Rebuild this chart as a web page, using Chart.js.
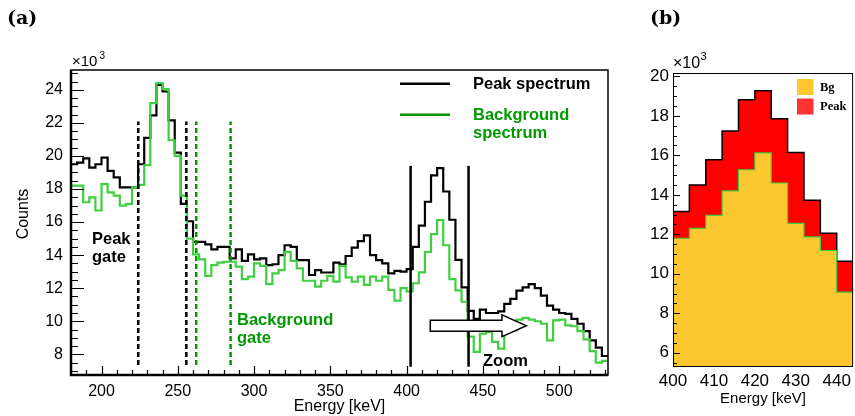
<!DOCTYPE html>
<html><head><meta charset="utf-8">
<script src="https://cdn.jsdelivr.net/npm/chart.js@4.4.1/dist/chart.umd.min.js"></script>
<style>
html,body{margin:0;padding:0;background:#fff;width:855px;height:416px;overflow:hidden;}
#a{position:absolute;left:0;top:0;}
#b{position:absolute;left:640px;top:0;}
</style></head><body>
<canvas id="a" width="620" height="416"></canvas>
<canvas id="b" width="215" height="416"></canvas>
<script>
// ---- data (counts in units of 10^3, 4 keV bins; values are bin low edges) ----
const binLowEdges = [180,184,188,192,196,200,204,208,212,216,220,224,228,232,236,240,244,248,252,256,
 260,264,268,272,276,280,284,288,292,296,300,304,308,312,316,320,324,328,332,336,
 340,344,348,352,356,360,364,368,372,376,380,384,388,392,396,400,404,408,412,416,
 420,424,428,432,436,440,444,448,452,456,460,464,468,472,476,480,484,488,492,496,
 500,504,508,512,516,520,524,528];
const binWidthKeV = 4;
const peakCounts = [19.5,19.6,19.85,19.3,19.5,19.9,19.1,18.7,18.1,18.1,18.1,19.5,21.1,22.45,24.3,23.9,22.15,20.2,17.1,16.05,
 14.8,14.8,14.65,14.35,14.5,14.5,13.8,14.35,13.65,14.05,13.75,13.8,13.4,13.45,14.0,14.6,14.5,13.7,13.7,12.8,
 13.1,12.95,12.95,13.55,13.45,13.95,14.45,14.85,15.2,14.0,13.7,13.5,12.9,13.05,13.0,13.15,14.5,15.78,17.23,18.82,
 19.27,17.85,16.14,13.72,12.05,10.63,10.15,10.7,10.5,10.5,10.6,11.05,11.35,11.85,12.05,12.25,12.0,11.55,10.95,10.7,
 10.5,10.45,10.15,9.85,9.4,8.85,8.4,7.9];
const bgCounts = [18.2,18.2,17.2,17.5,16.7,18.3,17.8,17.6,17.0,17.1,18.1,18.25,19.45,23.2,24.4,24.05,20.95,20.0,17.6,15.0,
 14.05,13.75,12.75,13.4,13.55,13.6,13.6,13.3,12.55,12.7,13.5,13.35,12.25,12.9,13.1,14.2,13.65,13.2,12.45,12.45,
 12.1,12.45,12.75,12.4,13.35,12.65,12.4,12.7,12.2,12.7,12.45,12.7,11.9,11.25,12.0,11.8,12.3,12.96,14.2,15.27,
 16.12,14.6,12.55,11.87,11.18,9.07,8.15,9.25,9.35,8.75,8.35,9.4,9.45,10.1,10.2,10.1,10.0,9.85,8.85,10.05,
 10.1,9.75,9.7,9.4,8.9,8.2,7.5,7.6];
const xTicksA = [200,250,300,350,400,450,500];
const yTicksA = [8,10,12,14,16,18,20,22,24];
const xTicksB = [400,410,420,430,440];
const yTicksB = [6,8,10,12,14,16,18,20];
const peakGate = [224.1, 255.6];
const bgGate = [262.1, 284.6];
const zoomWindow = [402.6, 440.6];
const gateSpan = [7.35, 22.08];
const zoomLineSpan = [7.25, 19.4];
const zoomRange = [400, 444];

function histPoints(vals, lo, hi) {
  const pts = [];
  binLowEdges.forEach((e, i) => { if (e >= lo && e < hi) pts.push({x: e, y: vals[i]}); });
  const last = pts[pts.length - 1];
  pts.push({x: last.x + binWidthKeV, y: last.y});
  return pts;
}
function vline(x, span, color, dash, order) {
  return {data: [{x: x, y: span[0]}, {x: x, y: span[1]}], borderColor: color, borderWidth: 2.5,
    borderDash: dash, pointRadius: 0, fill: false, order: order, tension: 0};
}
const SANS = '"Liberation Sans", Arial, Helvetica, sans-serif';
const GREEN_H = '#3fcf3f';
const GREEN_D = '#009a00';

function drawTicks(ctx, chart, xs, ys) {
  const a = chart.chartArea, sx = chart.scales.x, sy = chart.scales.y;
  ctx.save();
  ctx.strokeStyle = '#000'; ctx.lineWidth = 1.2;
  ctx.beginPath();
  if (xs) {
    for (let v = xs.from; v <= xs.to + 1e-9; v += xs.minor) {
      const p = Math.round(sx.getPixelForValue(v)) + 0.5;
      const major = Math.abs((v - xs.base) / xs.major - Math.round((v - xs.base) / xs.major)) < 1e-6;
      const len = major ? xs.lenMajor : xs.lenMinor;
      ctx.moveTo(p, a.bottom); ctx.lineTo(p, a.bottom - len);
    }
  }
  if (ys) {
    for (let v = ys.from; v <= ys.to + 1e-9; v += ys.minor) {
      const p = Math.round(sy.getPixelForValue(v)) + 0.5;
      const major = Math.abs(v / ys.major - Math.round(v / ys.major)) < 1e-6;
      const len = major ? ys.lenMajor : ys.lenMinor;
      ctx.moveTo(a.left, p); ctx.lineTo(a.left + len, p);
    }
  }
  ctx.stroke();
  ctx.restore();
}

const decorA = {
  id: 'decorA',
  afterDraw(chart) {
    const ctx = chart.ctx, a = chart.chartArea, sx = chart.scales.x, sy = chart.scales.y;
    ctx.save();
    // arrow "Zoom"
    const x0 = sx.getPixelForValue(415.5), xh = sx.getPixelForValue(462.5), x1 = sx.getPixelForValue(478.5);
    const yc = sy.getPixelForValue(9.73);
    const s = sy.getPixelForValue(9.73 - 0.335) - yc, h = sy.getPixelForValue(9.73 - 0.655) - yc;
    ctx.beginPath();
    ctx.moveTo(x0, yc - s); ctx.lineTo(xh, yc - s); ctx.lineTo(xh, yc - h); ctx.lineTo(x1, yc);
    ctx.lineTo(xh, yc + h); ctx.lineTo(xh, yc + s); ctx.lineTo(x0, yc + s); ctx.closePath();
    ctx.fillStyle = '#fff'; ctx.fill();
    ctx.strokeStyle = '#000'; ctx.lineWidth = 1.5; ctx.stroke();
    // frame
    ctx.strokeStyle = '#000';
    ctx.lineWidth = 1.5;
    ctx.strokeRect(a.left, a.top, a.right - a.left, a.bottom - a.top);
    ctx.lineWidth = 2.5;
    ctx.beginPath(); ctx.moveTo(a.left, a.top); ctx.lineTo(a.left, a.bottom); ctx.lineTo(a.right, a.bottom); ctx.stroke();
    ctx.restore();
    drawTicks(ctx, chart,
      {from: 190, to: 530, minor: 10, major: 50, base: 200, lenMajor: 9, lenMinor: 5},
      {from: 7, to: 25, minor: 0.5, major: 2, lenMajor: 13, lenMinor: 7});
    ctx.save();
    ctx.fillStyle = '#000';
    ctx.textBaseline = 'middle'; ctx.textAlign = 'left';
    // x10^3
    ctx.font = '15px ' + SANS; ctx.fillText('\u00d710', 72, 62);
    ctx.font = '10px ' + SANS; ctx.fillText('3', 99.5, 56);
    // Counts
    ctx.save(); ctx.translate(24, 214); ctx.rotate(-Math.PI / 2);
    ctx.textAlign = 'center'; ctx.font = '16px ' + SANS; ctx.fillText('Counts', 0, 0); ctx.restore();
    // (a)
    ctx.font = 'bold 19px "DejaVu Serif", serif'; ctx.fillText('(a)', 7, 19);
    // annotations
    ctx.font = 'bold 16.5px ' + SANS;
    ctx.fillText('Peak', 92, 239.5); ctx.fillText('gate', 92, 257.5);
    ctx.fillText('Zoom', 483, 361);
    ctx.fillStyle = GREEN_D;
    ctx.fillText('Background', 237, 320); ctx.fillText('gate', 237, 338);
    // legend
    ctx.lineWidth = 2.5;
    ctx.strokeStyle = '#000'; ctx.beginPath(); ctx.moveTo(400, 83.7); ctx.lineTo(450, 83.7); ctx.stroke();
    ctx.strokeStyle = GREEN_D; ctx.beginPath(); ctx.moveTo(400, 114.7); ctx.lineTo(450, 114.7); ctx.stroke();
    ctx.font = 'bold 16.5px ' + SANS;
    ctx.fillStyle = '#000'; ctx.fillText('Peak spectrum', 473, 84);
    ctx.fillStyle = GREEN_D; ctx.fillText('Background', 473, 115); ctx.fillText('spectrum', 473, 133);
    ctx.restore();
  }
};

new Chart(document.getElementById('a'), {
  type: 'line',
  data: {datasets: [
    {label: 'Peak spectrum', data: histPoints(peakCounts, 180, 532), borderColor: '#000', borderWidth: 2.2,
      stepped: 'before', pointRadius: 0, fill: false, order: 4},
    {label: 'Background spectrum', data: histPoints(bgCounts, 180, 532), borderColor: GREEN_H, borderWidth: 2.2,
      stepped: 'before', pointRadius: 0, fill: false, order: 3},
    vline(peakGate[0], gateSpan, '#000', [5, 3], 2),
    vline(peakGate[1], gateSpan, '#000', [5, 3], 2),
    vline(bgGate[0], gateSpan, GREEN_D, [5, 3], 2),
    vline(bgGate[1], gateSpan, GREEN_D, [5, 3], 2),
    vline(zoomWindow[0], zoomLineSpan, '#000', [], 1),
    vline(zoomWindow[1], zoomLineSpan, '#000', [], 1)
  ]},
  options: {
    animation: false, responsive: false, devicePixelRatio: 1,
    layout: {padding: {top: 70, right: 12, left: 0, bottom: 0}},
    plugins: {legend: {display: false}, tooltip: {enabled: false}},
    scales: {
      x: {type: 'linear', min: 180, max: 532,
        afterFit(s) { s.height = 41; },
        afterBuildTicks(s) { s.ticks = xTicksA.map(v => ({value: v})); },
        grid: {display: false, drawTicks: false}, border: {display: false},
        ticks: {padding: 7, color: '#000', font: {family: SANS, size: 16}, maxRotation: 0, autoSkip: false,
          callback: v => String(v)},
        title: {display: true, text: 'Energy [keV]', color: '#000', font: {family: SANS, size: 16}, padding: {top: 0, bottom: 0}}
      },
      y: {type: 'linear', min: 6.75, max: 25.2,
        afterFit(s) { s.width = 71; },
        afterBuildTicks(s) { s.ticks = yTicksA.map(v => ({value: v})); },
        grid: {display: false, drawTicks: false}, border: {display: false},
        ticks: {padding: 8, color: '#000', font: {family: SANS, size: 16}, autoSkip: false, callback: v => String(v)}
      }
    }
  },
  plugins: [decorA]
});

const decorB = {
  id: 'decorB',
  afterDraw(chart) {
    const ctx = chart.ctx, a = chart.chartArea;
    ctx.save();
    ctx.strokeStyle = '#000'; ctx.lineWidth = 1;
    ctx.strokeRect(a.left + 0.5, a.top + 0.5, a.right - a.left - 1, a.bottom - a.top - 1);
    ctx.restore();
    drawTicks(ctx, chart, null, {from: 5.5, to: 20, minor: 0.5, major: 2, lenMajor: 7, lenMinor: 4});
    ctx.save();
    ctx.fillStyle = '#000'; ctx.textBaseline = 'middle'; ctx.textAlign = 'left';
    ctx.font = '16px ' + SANS; ctx.fillText('\u00d710', 33, 64);
    ctx.font = '11px ' + SANS; ctx.fillText('3', 60.5, 57);
    ctx.font = 'bold 19px "DejaVu Serif", serif'; ctx.fillText('(b)', 10, 19);
    // legend
    ctx.fillStyle = '#fdc72f'; ctx.fillRect(157, 79, 16.5, 16);
    ctx.fillStyle = '#ff3333'; ctx.fillRect(157, 98.5, 16.5, 16);
    ctx.fillStyle = '#000'; ctx.font = 'bold 12.5px "Liberation Serif", "Times New Roman", serif';
    ctx.fillText('Bg', 180, 87.5); ctx.fillText('Peak', 180, 107);
    ctx.restore();
  }
};

new Chart(document.getElementById('b'), {
  type: 'line',
  data: {datasets: [
    {label: 'Bg', data: histPoints(bgCounts, zoomRange[0], zoomRange[1]), borderColor: GREEN_H, borderWidth: 1.2,
      backgroundColor: '#fdc72f', fill: 'start', stepped: 'before', pointRadius: 0, order: 1},
    {label: 'Peak', data: histPoints(peakCounts, zoomRange[0], zoomRange[1]), borderColor: '#000', borderWidth: 1.5,
      backgroundColor: '#ff0000', fill: 'start', stepped: 'before', pointRadius: 0, order: 2}
  ]},
  options: {
    animation: false, responsive: false, devicePixelRatio: 1,
    layout: {padding: {top: 73, right: 1, left: 0, bottom: 0}},
    plugins: {legend: {display: false}, tooltip: {enabled: false}, filler: {propagate: false}},
    scales: {
      x: {type: 'linear', min: zoomRange[0], max: zoomRange[1],
        afterFit(s) { s.height = 49; },
        afterBuildTicks(s) { s.ticks = xTicksB.map(v => ({value: v})); },
        grid: {display: false, drawTicks: false}, border: {display: false},
        ticks: {padding: 4, color: '#000', font: {family: SANS, size: 17}, maxRotation: 0, autoSkip: false, callback: v => String(v)},
        title: {display: true, text: 'Energy [keV]', color: '#000', font: {family: SANS, size: 15}, padding: {top: 0, bottom: 8}}
      },
      y: {type: 'linear', min: 5.28, max: 20.17,
        afterFit(s) { s.width = 33; },
        afterBuildTicks(s) { s.ticks = yTicksB.map(v => ({value: v})); },
        grid: {display: false, drawTicks: false}, border: {display: false},
        ticks: {padding: 4, color: '#000', font: {family: SANS, size: 17}, autoSkip: false, callback: v => String(v)}
      }
    }
  },
  plugins: [decorB]
});
</script>
</body></html>
